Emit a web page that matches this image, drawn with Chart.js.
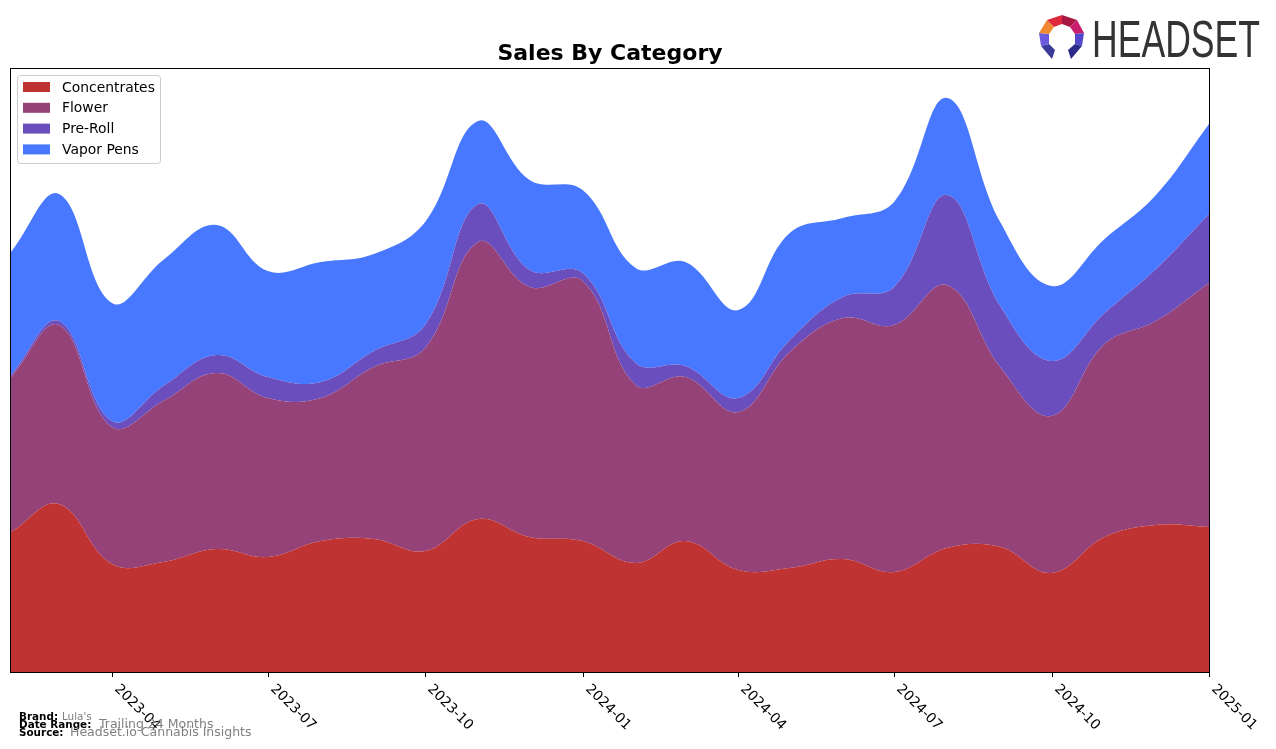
<!DOCTYPE html>
<html>
<head>
<meta charset="utf-8">
<script src="https://cdn.jsdelivr.net/npm/chart.js@4.4.1/dist/chart.umd.min.js"></script>
<style>
    body { margin: 0; background: #fff; }
    #wrap { position: relative; width: 1276px; height: 749px; }
</style>
</head>
<body>
<div id="wrap"><canvas id="myChart" width="1276" height="749"></canvas></div>
<script>
// monthly sales, stacked (units)
var months = ['2023-02','2023-03','2023-04','2023-05','2023-06','2023-07','2023-08','2023-09','2023-10','2023-11','2023-12',
              '2024-01','2024-02','2024-03','2024-04','2024-05','2024-06','2024-07','2024-08','2024-09','2024-10','2024-11','2024-12',
              '2025-01'];
var concentrates = [140,168,108,110,123,115,131,133,121,153,135,131,109,131,102,104,113,100,124,125,99,135,147,145];
var flower       = [155,179,137,161,176,159,143,172,203,277,250,260,178,164,158,216,241,247,263,180,157,193,204,244];
var preRoll      = [2,4,6,15,18,21,16,16,23,38,17,8,22,11,14,12,21,38,90,61,55,31,52,69];
var vaporPens    = [123,127,118,126,130,106,120,97,103,83,90,83,95,104,88,107,79,85,97,84,75,74,74,90];

var tickLabels = ['2023-04','2023-07','2023-10','2024-01','2024-04','2024-07','2024-10','2025-01'];
var seriesNames = ['Concentrates','Flower','Pre-Roll','Vapor Pens'];
var seriesColors = ['#c03333','#954279','#6a4ebd','#4878ff'];
var yMax = 604;

function dayOf(ym) {
    var p = ym.split('-');
    return (Date.UTC(+p[0], +p[1] - 1, 1) - Date.UTC(2023, 1, 1)) / 86400000;
}

function points(vals) {
    return vals.map(function (v, i) { return { x: dayOf(months[i]), y: v }; });
}

var allSeries = [concentrates, flower, preRoll, vaporPens];
var datasets = allSeries.map(function (vals, i) {
    return {
        label: seriesNames[i],
        data: points(vals),
        backgroundColor: seriesColors[i],
        borderColor: seriesColors[i],
        borderWidth: 0,
        pointRadius: 0,
        tension: 0.4,
        fill: i === 0 ? 'origin' : '-1'
    };
});

var decor = {
    id: 'decor',
    afterDraw: function (chart) {
        var ctx = chart.ctx;
        var a = chart.chartArea;
        var xs = chart.scales.x;
        ctx.save();

        // frame
        ctx.strokeStyle = '#000';
        ctx.lineWidth = 1;
        ctx.strokeRect(a.left - 0.5, a.top + 0.5, a.right - a.left + 1, a.bottom - a.top);

        // x ticks + rotated labels
        ctx.fillStyle = '#000';
        ctx.font = '13.9px "DejaVu Sans"';
        ctx.textAlign = 'left';
        ctx.textBaseline = 'top';
        tickLabels.forEach(function (lab) {
            var px = Math.round(xs.getPixelForValue(dayOf(lab))) + 0.5;
            ctx.beginPath();
            ctx.moveTo(px, a.bottom);
            ctx.lineTo(px, a.bottom + 5);
            ctx.stroke();
            ctx.save();
            ctx.translate(px + 9, a.bottom + 10);
            ctx.rotate(Math.PI / 4);
            ctx.fillText(lab, 0, 0);
            ctx.restore();
        });

        // title
        ctx.font = 'bold 22px "DejaVu Sans"';
        ctx.textAlign = 'center';
        ctx.textBaseline = 'alphabetic';
        ctx.fillText('Sales By Category', (a.left + a.right) / 2, 60);

        // legend
        ctx.beginPath();
        ctx.roundRect(17.5, 75.5, 143, 88, 3);
        ctx.fillStyle = 'rgba(255,255,255,0.8)';
        ctx.fill();
        ctx.strokeStyle = '#cccccc';
        ctx.stroke();
        ctx.font = '13.9px "DejaVu Sans"';
        ctx.textAlign = 'left';
        ctx.textBaseline = 'middle';
        seriesNames.forEach(function (name, i) {
            var cy = 87 + i * 20.8;
            ctx.fillStyle = seriesColors[i];
            ctx.fillRect(23, cy - 5, 27, 10);
            ctx.fillStyle = '#000';
            ctx.fillText(name, 62, cy + 1);
        });

        // footer
        ctx.textBaseline = 'alphabetic';
        ctx.fillStyle = '#000';
        ctx.font = 'bold 10.4px "DejaVu Sans"';
        ctx.fillText('Brand:', 19, 720);
        ctx.fillText('Date Range:', 19, 728);
        ctx.fillText('Source:', 19, 736);
        ctx.fillStyle = '#808080';
        ctx.font = '10.4px "DejaVu Sans"';
        ctx.fillText("Lula's", 62, 720);
        ctx.font = '12.5px "DejaVu Sans"';
        ctx.fillText('Trailing 24 Months', 99, 728);
        ctx.fillText('Headset.io Cannabis Insights', 70, 736);

        // logo
        var outer = [[1052,59],[1041,46],[1039,33],[1047,20],[1062,15],[1077,20],[1084,33],[1082,46],[1071,59]];
        var inner = [[1055,50],[1049,44],[1049,34],[1054,27],[1062,24],[1070,27],[1075,34],[1075,44],[1068,50]];
        var logoCols = ['#3a3a9a','#6a5ae0','#f08a30','#e0283c','#a81840','#c81e6e','#5048c8','#2c2c88'];
        for (var i = 0; i < 8; i++) {
            ctx.beginPath();
            ctx.moveTo(outer[i][0], outer[i][1]);
            ctx.lineTo(outer[i + 1][0], outer[i + 1][1]);
            ctx.lineTo(inner[i + 1][0], inner[i + 1][1]);
            ctx.lineTo(inner[i][0], inner[i][1]);
            ctx.closePath();
            ctx.fillStyle = logoCols[i];
            ctx.fill();
        }
        ctx.font = '51px "Liberation Sans Narrow", "Liberation Sans", sans-serif';
        ctx.fillStyle = '#333333';
        var w = ctx.measureText('HEADSET').width;
        ctx.save();
        ctx.translate(1092, 57);
        ctx.scale(168 / w, 1);
        ctx.fillText('HEADSET', 0, 0);
        ctx.restore();

        ctx.restore();
    }
};

var myChart = new Chart(document.getElementById('myChart'), {
    type: 'line',
    data: { datasets: datasets },
    options: {
        responsive: false,
        animation: false,
        devicePixelRatio: 1,
        layout: { padding: { left: 11, right: 67, top: 68, bottom: 77 } },
        plugins: { legend: { display: false }, title: { display: false }, tooltip: { enabled: false } },
        scales: {
            x: { type: 'linear', min: 0, max: dayOf('2025-01'), display: false },
            y: { stacked: true, min: 0, max: yMax, display: false }
        }
    },
    plugins: [decor]
});
</script>
</body>
</html>
